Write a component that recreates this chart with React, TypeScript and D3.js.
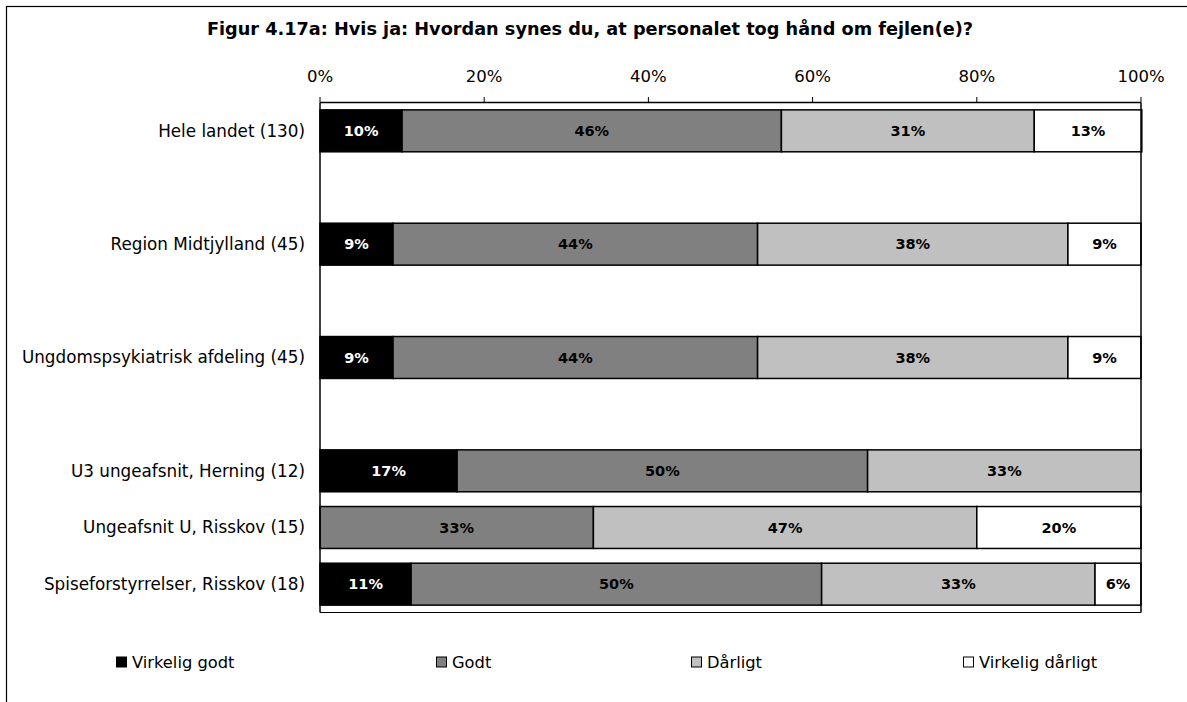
import * as d3 from "d3";

const title = "Figur 4.17a: Hvis ja: Hvordan synes du, at personalet tog hånd om fejlen(e)?";

// empty strings are the blank rows between the groups
const categories = [
  "Hele landet (130)",
  "",
  "Region Midtjylland (45)",
  "",
  "Ungdomspsykiatrisk afdeling (45)",
  "",
  "U3 ungeafsnit, Herning (12)",
  "Ungeafsnit U, Risskov (15)",
  "Spiseforstyrrelser, Risskov (18)",
];

const seriesNames = ["Virkelig godt", "Godt", "Dårligt", "Virkelig dårligt"];

const virkeligGodt = [10.0, 0, 8.9, 0, 8.9, 0, 16.7, 0, 11.1];
const godt = [46.2, 0, 44.4, 0, 44.4, 0, 50.0, 33.3, 50.0];
const daarligt = [30.8, 0, 37.8, 0, 37.8, 0, 33.3, 46.7, 33.3];
const virkeligDaarligt = [13.1, 0, 8.9, 0, 8.9, 0, 0, 20.0, 5.6];

const ticks = [0, 20, 40, 60, 80, 100];

const fills = ["#000000", "#808080", "#c0c0c0", "#ffffff"];
const labelColors = ["#ffffff", "#000000", "#000000", "#000000"];
const legendX = [116, 436, 691, 963];

const FONT = "'DejaVu Sans', sans-serif";

export default function App() {
  const width = 1187;
  const height = 702;
  const plot = { left: 320, right: 1141, top: 102.5, bottom: 612.5 };

  const x = d3.scaleLinear().domain([0, 100]).range([plot.left, plot.right]);
  const y = d3
    .scaleBand<number>()
    .domain(d3.range(categories.length))
    .range([plot.top, plot.bottom])
    .paddingInner(0.26)
    .paddingOuter(0.13);

  const rows = categories.map((c, i) => ({
    cat: c,
    i,
    vals: [virkeligGodt[i], godt[i], daarligt[i], virkeligDaarligt[i]],
  }));
  const stack = d3
    .stack<(typeof rows)[0], number>()
    .keys([0, 1, 2, 3])
    .value((d, k) => d.vals[k]);
  const layers = stack(rows);

  return (
    <svg
      width={width}
      height={height}
      style={{ position: "absolute", left: 0, top: 0, fontFamily: FONT }}
    >
      <rect x={0} y={0} width={width} height={height} fill="#fff" />
      <rect x={6.5} y={6.5} width={1220} height={740} fill="none" stroke="#000" strokeWidth={1.2} />
      <text x={590} y={35} textAnchor="middle" fontWeight="bold" fontSize={17.7}>
        {title}
      </text>

      {/* axis on top */}
      {ticks.map((t) => (
        <g key={t}>
          <line x1={x(t)} x2={x(t)} y1={97} y2={plot.top} stroke="#000" strokeWidth={1} />
          <text x={x(t)} y={82} textAnchor="middle" fontSize={16.5}>
            {t}%
          </text>
        </g>
      ))}

      {/* bars */}
      {layers.map((layer, k) =>
        layer.map((seg, i) => {
          const v = rows[i].vals[k];
          if (!categories[i] || v <= 0) return null;
          const x0 = x(seg[0]);
          const x1 = x(seg[1]);
          const yy = y(i)!;
          return (
            <g key={`${k}-${i}`}>
              <rect
                x={x0}
                y={yy}
                width={x1 - x0}
                height={y.bandwidth()}
                fill={fills[k]}
                stroke="#000"
                strokeWidth={1.5}
              />
              <text
                x={(x0 + x1) / 2}
                y={yy + y.bandwidth() / 2}
                dy="0.35em"
                textAnchor="middle"
                fontWeight="bold"
                fontSize={14.5}
                fill={labelColors[k]}
              >
                {Math.round(v)}%
              </text>
            </g>
          );
        })
      )}

      {/* plot frame */}
      <line x1={plot.left} x2={plot.right} y1={plot.top} y2={plot.top} stroke="#000" strokeWidth={1.5} />
      <line x1={plot.left} x2={plot.right} y1={plot.bottom} y2={plot.bottom} stroke="#000" strokeWidth={1.2} />
      <line x1={plot.left} x2={plot.left} y1={plot.top} y2={plot.bottom} stroke="#000" strokeWidth={1.5} />
      <line x1={plot.right} x2={plot.right} y1={plot.top} y2={plot.bottom} stroke="#000" strokeWidth={1.5} />

      {/* category labels */}
      {categories.map((c, i) =>
        c ? (
          <text
            key={i}
            x={305}
            y={y(i)! + y.bandwidth() / 2}
            dy="0.35em"
            textAnchor="end"
            fontSize={16.8}
          >
            {c}
          </text>
        ) : null
      )}

      {/* legend */}
      {seriesNames.map((s, k) => (
        <g key={s} transform={`translate(${legendX[k]},662)`}>
          <rect x={0.5} y={-5} width={10} height={10} fill={fills[k]} stroke="#000" strokeWidth={1} />
          <text x={16} y={0} dy="0.35em" fontSize={16.3}>
            {s}
          </text>
        </g>
      ))}
    </svg>
  );
}
